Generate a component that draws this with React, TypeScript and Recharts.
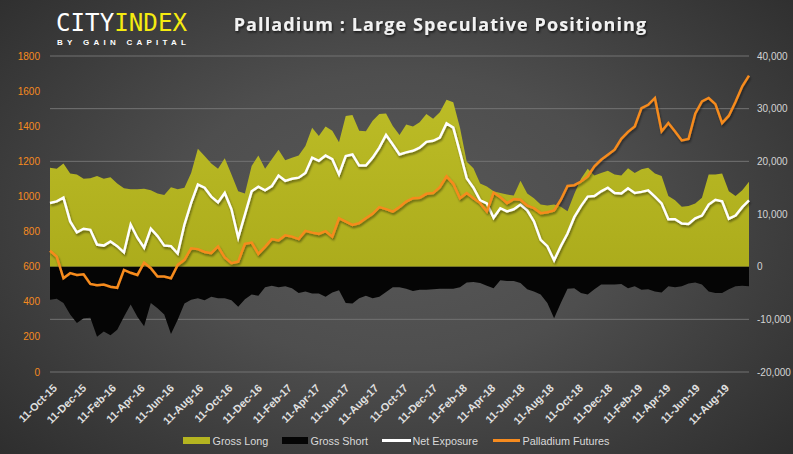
import React from 'react';
import { ComposedChart, Area, Line, XAxis, YAxis, CartesianGrid } from 'recharts';

// ---- Data (bi-weekly samples starting 11-Oct-15) ----
const START_LABEL = '11-Oct-15';
const STEP_DAYS = 14;

const grossLong = [
  18800, 18600, 19600, 17700, 17500, 16700, 16800, 17200, 16700, 17000,
  15800, 14900, 14700, 14700, 14800, 14500, 13900, 13600, 15100, 14700,
  15000, 17800, 22400, 21000, 19600, 18600, 20600, 17500, 14300, 13900,
  19100, 21100, 18600, 20400, 22200, 20200, 20700, 21100, 22900, 26400,
  24800, 26600, 25800, 23600, 28600, 28800, 25800, 25700, 27700, 29000,
  29100, 26700, 25000, 27000, 26600, 27400, 29000, 28100, 29300, 31700,
  31200, 26400, 19900, 18700, 15800, 15200, 14300, 14000, 13700, 13500,
  16300, 13900, 13000, 11800, 11600, 11800, 11400, 10500, 13800, 16700,
  18600, 17300, 17800, 18200, 17500, 17300, 18700, 17800, 18500, 18800,
  17700, 17200, 13400, 12600, 11400, 11500, 12000, 13100, 17500, 17500,
  17700, 14300, 13400, 14500, 16100,
];

const grossShort = [
  -6300, -6100, -6900, -9100, -10700, -9800, -9700, -13300, -12300, -13000,
  -12000, -9500, -7200, -9500, -11300, -6900, -7900, -9100, -12800, -10100,
  -7000, -6300, -6000, -6400, -5700, -6000, -6000, -6400, -7600, -6200,
  -5300, -5500, -3900, -3600, -3900, -3700, -4100, -5000, -4700, -5100,
  -5100, -5700, -4900, -4500, -6900, -7000, -6000, -5500, -6000, -5700,
  -4800, -3900, -3900, -4200, -4600, -4400, -4400, -4300, -4200, -4200,
  -4200, -3900, -3000, -2900, -3100, -3600, -4100, -2600, -2700, -2700,
  -3100, -4300, -4700, -5300, -6900, -9800, -6900, -4200, -4100, -5000,
  -5300, -4300, -3400, -3400, -3400, -3300, -4100, -3700, -4400, -4300,
  -4700, -4900, -3700, -3900, -3700, -3200, -3000, -3400, -4700, -5000,
  -5000, -4300, -3700, -3600, -3700,
];

const netExposure = [
  12100, 12400, 13100, 8600, 6500, 7200, 7000, 4200, 4000, 4800,
  3900, 2700, 8000, 5500, 3600, 7200, 5800, 4000, 3900, 2500,
  8000, 12100, 15600, 15000, 13300, 12200, 14000, 10900, 5500, 9900,
  14300, 15200, 14500, 15300, 17300, 16300, 16700, 16900, 17800, 20700,
  20100, 21100, 20400, 17500, 21000, 21300, 19200, 19200, 20700, 22600,
  25000, 23200, 21300, 21700, 22000, 22600, 23700, 23900, 24500, 27200,
  26400, 21700, 16800, 15000, 12600, 12000, 9300, 11100, 10500, 10900,
  11800, 10700, 8600, 5100, 3900, 1200, 3900, 6300, 9400, 11500,
  13300, 13400, 14300, 15000, 14000, 13900, 14900, 14000, 14200, 14500,
  13300, 12000, 9000, 9000, 8200, 8100, 9200, 9700, 11800, 12700,
  12400, 9100, 9700, 11300, 12600,
];

const palladiumFutures = [
  691, 657, 534, 563, 553, 557, 502, 494, 498, 486,
  480, 582, 565, 553, 623, 591, 544, 544, 534, 610,
  639, 705, 700, 684, 677, 715, 652, 620, 629, 730,
  737, 673, 713, 757, 749, 779, 771, 757, 804, 794,
  787, 802, 771, 876, 857, 838, 848, 876, 901, 939,
  928, 914, 940, 971, 990, 992, 1015, 1019, 1053, 1114,
  1072, 990, 1019, 990, 962, 914, 1022, 996, 962, 985,
  981, 948, 933, 905, 910, 920, 981, 1060, 1064, 1085,
  1114, 1171, 1209, 1237, 1266, 1328, 1368, 1399, 1503, 1522,
  1561, 1370, 1418, 1370, 1319, 1327, 1471, 1541, 1561, 1526,
  1418, 1460, 1539, 1627, 1688,
];

const xTickLabels = [
  '11-Oct-15', '11-Dec-15', '11-Feb-16', '11-Apr-16', '11-Jun-16', '11-Aug-16',
  '11-Oct-16', '11-Dec-16', '11-Feb-17', '11-Apr-17', '11-Jun-17', '11-Aug-17',
  '11-Oct-17', '11-Dec-17', '11-Feb-18', '11-Apr-18', '11-Jun-18', '11-Aug-18',
  '11-Oct-18', '11-Dec-18', '11-Feb-19', '11-Apr-19', '11-Jun-19', '11-Aug-19',
];
const leftTicks = [0, 200, 400, 600, 800, 1000, 1200, 1400, 1600, 1800];
const rightTicks = [-20000, -10000, 0, 10000, 20000, 30000, 40000];

// ---- helpers ----
const MONTHS: Record<string, number> = {
  Jan: 0, Feb: 1, Mar: 2, Apr: 3, May: 4, Jun: 5, Jul: 6, Aug: 7, Sep: 8, Oct: 9, Nov: 10, Dec: 11,
};
const labelToUTC = (l: string) => {
  const [d, m, y] = l.split('-');
  return Date.UTC(2000 + Number(y), MONTHS[m], Number(d));
};
const START = labelToUTC(START_LABEL);
const labelToDay = (l: string) => Math.round((labelToUTC(l) - START) / 86400000);

const xTicks = xTickLabels.map(labelToDay);
const tickLabelByDay: Record<number, string> = {};
xTickLabels.forEach((l) => { tickLabelByDay[labelToDay(l)] = l; });

const data = grossLong.map((gl, i) => ({
  day: i * STEP_DAYS,
  long: gl,
  short: grossShort[i],
  net: netExposure[i],
  price: palladiumFutures[i],
}));
const lastDay = (grossLong.length - 1) * STEP_DAYS;

const ORANGE = '#f68b1f';
const YELLOW = '#b4b420';

const XTick = (props: any) => {
  const { x, y, payload } = props;
  const ax = x + 2;
  const ay = y + 3;
  return (
    <text
      x={ax}
      y={ay}
      transform={`rotate(-45 ${ax} ${ay})`}
      textAnchor="end"
      dominantBaseline="hanging"
      fill="#e0e0e0"
      fontSize={10.8}
      fontWeight="bold"
      fontFamily="'Liberation Sans', Arial, sans-serif"
    >
      {tickLabelByDay[payload.value] ?? ''}
    </text>
  );
};

const fmtRight = (v: number) => v.toLocaleString('en-US');

export default function App() {
  return (
    <div
      style={{
        position: 'absolute',
        left: 0,
        top: 0,
        width: 793,
        height: 454,
        overflow: 'hidden',
        background:
          'radial-gradient(ellipse 70% 80% at 50% 48%, #585858 0%, #4e4e4e 40%, #3a3a3a 75%, #2c2c2c 100%)',
      }}
    >
      <svg width={0} height={0} style={{ position: 'absolute' }}>
        <defs>
          <filter id="lineShadow" x="-5%" y="-5%" width="110%" height="120%">
            <feDropShadow dx="1" dy="2" stdDeviation="1.2" floodColor="#000" floodOpacity="0.45" />
          </filter>
          <filter id="textShadow" x="-5%" y="-20%" width="110%" height="150%">
            <feDropShadow dx="1" dy="1.5" stdDeviation="1" floodColor="#000" floodOpacity="0.7" />
          </filter>
        </defs>
      </svg>
      <ComposedChart
        width={793}
        height={454}
        data={data}
        margin={{ top: 56, right: 0, bottom: 22, left: 0 }}
      >
        <defs>
          <linearGradient id="longFill" x1="0" y1="0" x2="0" y2="1">
            <stop offset="0%" stopColor="#bcbc26" />
            <stop offset="100%" stopColor="#acac1c" />
          </linearGradient>
        </defs>
        <CartesianGrid
          yAxisId="right"
          vertical={false}
          stroke="#737373"
          strokeWidth={1}
        />
        <XAxis
          dataKey="day"
          type="number"
          domain={[0, lastDay]}
          ticks={xTicks}
          interval={0}
          tick={<XTick />}
          tickLine={false}
          axisLine={false}
          tickSize={0}
          tickMargin={8}
          height={60}
        />
        <YAxis
          yAxisId="left"
          orientation="left"
          domain={[0, 1800]}
          ticks={leftTicks}
          interval={0}
          width={50}
          tickLine={false}
          axisLine={false}
          tickSize={0}
          tickMargin={10}
          tick={{ fill: ORANGE, fontSize: 10, fontFamily: "'Liberation Sans', Arial, sans-serif" }}
        />
        <YAxis
          yAxisId="right"
          orientation="right"
          domain={[-20000, 40000]}
          ticks={rightTicks}
          interval={0}
          width={44}
          tickLine={false}
          axisLine={false}
          tickSize={0}
          tickMargin={8}
          tickFormatter={fmtRight}
          tick={{ fill: '#d4d4d4', fontSize: 10, fontFamily: "'Liberation Sans', Arial, sans-serif" }}
        />
        <Area
          yAxisId="right"
          type="linear"
          dataKey="long"
          name="Gross Long"
          stroke="none"
          fill="url(#longFill)"
          fillOpacity={1}
          isAnimationActive={false}
        />
        <Area
          yAxisId="right"
          type="linear"
          dataKey="short"
          name="Gross Short"
          stroke="none"
          fill="#050505"
          fillOpacity={1}
          isAnimationActive={false}
        />
        <Line
          yAxisId="right"
          type="linear"
          dataKey="net"
          name="Net Exposure"
          stroke="#ffffff"
          strokeWidth={2.5}
          dot={false}
          filter="url(#lineShadow)"
          isAnimationActive={false}
        />
        <Line
          yAxisId="left"
          type="linear"
          dataKey="price"
          name="Palladium Futures"
          stroke={ORANGE}
          strokeWidth={2.5}
          dot={false}
          filter="url(#lineShadow)"
          isAnimationActive={false}
        />
      </ComposedChart>

      <svg
        width={793}
        height={454}
        style={{ position: 'absolute', left: 0, top: 0, pointerEvents: 'none' }}
      >
        {/* Logo */}
        <text x={56} y={31} fontFamily="'DejaVu Sans Mono', monospace" fontSize={24}
          textLength={131} lengthAdjust="spacingAndGlyphs">
          <tspan fill="#ffffff">CITY</tspan>
          <tspan fill="#f5eb10">INDEX</tspan>
        </text>
        <text x={57} y={44.5} fontFamily="'Liberation Sans', Arial, sans-serif" fontSize={8} fontWeight="bold"
          fill="#ffffff" textLength={129} lengthAdjust="spacing">BY GAIN CAPITAL</text>

        {/* Title */}
        <text x={440.5} y={31} textAnchor="middle" fontFamily="'Open Sans', sans-serif" fontSize={18}
          fontWeight="bold" fill="#f2f2f2" filter="url(#textShadow)" letterSpacing={1.1}>
          Palladium : Large Speculative Positioning
        </text>

        {/* Legend */}
        <g fontFamily="'Liberation Sans', Arial, sans-serif" fontSize={10.8} fill="#d9d9d9">
          <rect x={183} y={437} width={27} height={7} fill={YELLOW} />
          <text x={212.5} y={444.5}>Gross Long</text>
          <rect x={282} y={437} width={26} height={7} fill="#050505" />
          <text x={310.5} y={444.5}>Gross Short</text>
          <line x1={382} y1={440.5} x2={411} y2={440.5} stroke="#ffffff" strokeWidth={3} />
          <text x={412.5} y={444.5}>Net Exposure</text>
          <line x1={493} y1={440.5} x2={520} y2={440.5} stroke={ORANGE} strokeWidth={3} />
          <text x={522.5} y={444.5}>Palladium Futures</text>
        </g>
      </svg>
    </div>
  );
}
